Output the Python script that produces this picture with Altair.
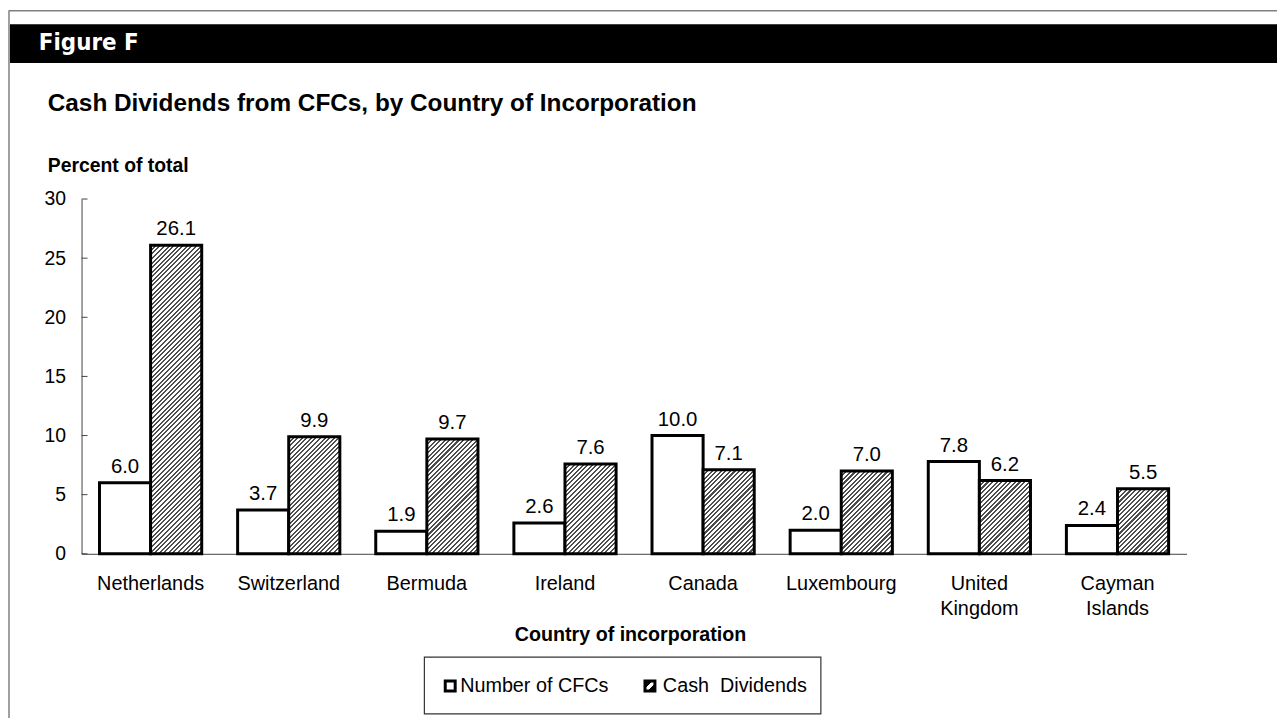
import altair as alt
import pandas as pd

# ---------------- data ----------------
countries = ["Netherlands", "Switzerland", "Bermuda", "Ireland", "Canada",
             "Luxembourg", "United Kingdom", "Cayman Islands"]
number_of_cfcs = [6.0, 3.7, 1.9, 2.6, 10.0, 2.0, 7.8, 2.4]
cash_dividends = [26.1, 9.9, 9.7, 7.6, 7.1, 7.0, 6.2, 5.5]
series_names = ["Number of CFCs", "Cash\u00a0 Dividends"]
y_ticks = [0, 5, 10, 15, 20, 25, 30]

figure_label = "Figure F"
chart_title = "Cash Dividends from CFCs, by Country of Incorporation"
y_title = "Percent of total"
x_title = "Country of incorporation"

rows = []
for c, a, b in zip(countries, number_of_cfcs, cash_dividends):
    rows.append({"country": c, "series": series_names[0], "value": a})
    rows.append({"country": c, "series": series_names[1], "value": b})
df = pd.DataFrame(rows)

# ---------------- layout ----------------
PW, PH = 1112, 357
FONT = "Liberation Sans, Arial, sans-serif"
YMAX = 30
P_IN, P_OUT = 0.26, 0.13
BAR_W = PW / (len(countries) - P_IN + 2 * P_OUT) * (1 - P_IN) / 2


def hatch(w, h, period=4.6, dark=0.45, c1="#4d4d4d", c2="#ffffff"):
    L = w + h
    s = (w * w + h * h) / L
    stops = []
    k = 0
    while k * period < L:
        t0 = k * period / L
        t1 = min((k * period + dark * period) / L, 1.0)
        t2 = min((k + 1) * period / L, 1.0)
        stops += [{"offset": t0, "color": c1}, {"offset": t1, "color": c1},
                  {"offset": t1, "color": c2}, {"offset": t2, "color": c2}]
        k += 1
    return {"gradient": "linear", "x1": 0, "y1": 0,
            "x2": w / s, "y2": h / s, "stops": stops}


label_expr = ("datum.value == 'United Kingdom' ? ['United', 'Kingdom'] : "
              "datum.value == 'Cayman Islands' ? ['Cayman', 'Islands'] : datum.value")

X = alt.X("country:N", sort=countries,
          scale=alt.Scale(domain=countries, paddingInner=P_IN, paddingOuter=P_OUT),
          axis=alt.Axis(title=None, labelAngle=0, labelFontSize=20, labelColor="#000",
                        labelPadding=20, ticks=False, domainColor="#444", domainWidth=1,
                        labelExpr=label_expr, labelLineHeight=25, labelFont=FONT))
XO = alt.XOffset("series:N", sort=series_names,
                 scale=alt.Scale(domain=series_names, paddingInner=0, paddingOuter=0))
Y = alt.Y("value:Q", scale=alt.Scale(domain=[0, YMAX], nice=False),
          axis=alt.Axis(title=None, values=y_ticks, grid=False, ticks=False,
                        labelFontSize=19.5, labelColor="#000", labelPadding=16,
                        domainColor="#444", domainWidth=1, labelFont=FONT))

base = alt.Chart(df)

white_bars = base.transform_filter(
    alt.datum.series == series_names[0]
).mark_bar(fill="white", stroke="black", strokeWidth=3).encode(x=X, xOffset=XO, y=Y)

hatched_layers = []
for c, v in zip(countries, cash_dividends):
    h = v * PH / YMAX
    hatched_layers.append(
        base.transform_filter(
            (alt.datum.series == series_names[1]) & (alt.datum.country == c)
        ).mark_bar(fill=hatch(BAR_W, h), stroke="black", strokeWidth=3)
        .encode(x=X, xOffset=XO, y=Y)
    )

value_labels = base.mark_text(baseline="alphabetic", dy=-10, fontSize=20.5,
                              color="#000", font=FONT).encode(
    x=X, xOffset=XO, y=Y, text=alt.Text("value:Q", format=".1f"))

ytick_rules = alt.Chart(pd.DataFrame({"value": y_ticks})).mark_rule(
    color="#444", strokeWidth=1).encode(y=Y, x=alt.value(0), x2=alt.value(6))


def one(txt):
    return alt.Chart(pd.DataFrame({"t": [txt]}))


frame_top = one("").mark_rule(color="#808080", strokeWidth=1.5).encode(
    x=alt.value(-73), x2=alt.value(1203), y=alt.value(-189.5))
frame_left = one("").mark_rule(color="#808080", strokeWidth=1.5).encode(
    x=alt.value(-73), y=alt.value(-190), y2=alt.value(530))
band = one("").mark_rect(color="black").encode(
    x=alt.value(-72), x2=alt.value(1203), y=alt.value(-176), y2=alt.value(-137))
fig_text = one(figure_label).mark_text(
    align="left", baseline="middle", fontSize=24, fontWeight="bold", color="white",
    font="Liberation Sans Narrow, DejaVu Sans Condensed, Roboto Condensed, Liberation Sans"
).encode(x=alt.value(-43), y=alt.value(-157), text="t:N")
title_text = one(chart_title).mark_text(
    align="left", baseline="middle", fontSize=24.5, fontWeight="bold", color="#000", font=FONT
).encode(x=alt.value(-34), y=alt.value(-96), text="t:N")
ytitle_text = one(y_title).mark_text(
    align="left", baseline="middle", fontSize=19.5, fontWeight="bold", color="#000", font=FONT
).encode(x=alt.value(-34), y=alt.value(-33), text="t:N")
xtitle_text = one(x_title).mark_text(
    align="center", baseline="middle", fontSize=19.8, fontWeight="bold", color="#000", font=FONT
).encode(x=alt.value(552.5), y=alt.value(439), text="t:N")

legend_box = one("").mark_rect(fill="white", stroke="#333", strokeWidth=1.2).encode(
    x=alt.value(345), x2=alt.value(744), y=alt.value(461), y2=alt.value(518))
leg_sym1 = one("").mark_rect(fill="white", stroke="black", strokeWidth=3).encode(
    x=alt.value(366), x2=alt.value(376), y=alt.value(485), y2=alt.value(495))
leg_grad = {"gradient": "linear", "x1": 0, "y1": 0, "x2": 1, "y2": 1, "stops": [
    {"offset": 0, "color": "black"}, {"offset": 0.38, "color": "black"},
    {"offset": 0.38, "color": "white"}, {"offset": 0.62, "color": "white"},
    {"offset": 0.62, "color": "black"}, {"offset": 1, "color": "black"}]}
leg_sym2 = one("").mark_rect(fill=leg_grad, stroke="black", strokeWidth=3).encode(
    x=alt.value(567), x2=alt.value(577), y=alt.value(485), y2=alt.value(495))
leg_text1 = one(series_names[0]).mark_text(
    align="left", baseline="middle", fontSize=19.9, color="#000", font=FONT
).encode(x=alt.value(381), y=alt.value(490), text="t:N")
leg_text2 = one(series_names[1]).mark_text(
    align="left", baseline="middle", fontSize=19.9, color="#000", font=FONT
).encode(x=alt.value(585), y=alt.value(490), text="t:N")

chart = alt.layer(
    frame_top, frame_left, band, fig_text, title_text, ytitle_text, xtitle_text,
    white_bars, *hatched_layers, value_labels, ytick_rules,
    legend_box, leg_sym1, leg_sym2, leg_text1, leg_text2
).properties(
    width=PW, height=PH,
    autosize=alt.AutoSizeParams(type="none"),
    padding={"left": 74, "top": 190, "right": 91, "bottom": 163},
    background="white",
).configure(font=FONT).configure_view(strokeWidth=0)

chart.save("out.html", embed_options={"renderer": "svg", "actions": False})
